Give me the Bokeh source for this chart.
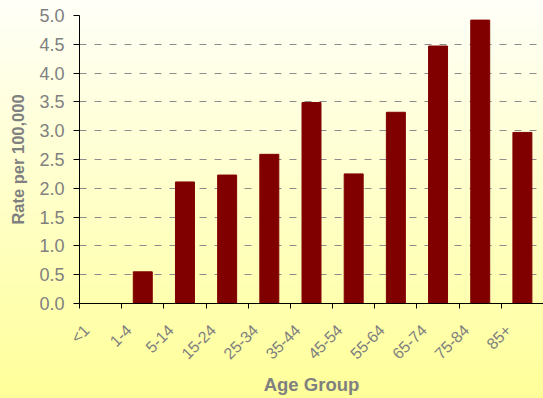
import math
from bokeh.plotting import figure
from bokeh.models import FixedTicker, Range1d, NumeralTickFormatter
from bokeh.embed import file_html
from bokeh.resources import INLINE

age_groups = ["<1", "1-4", "5-14", "15-24", "25-34", "35-44", "45-54", "55-64", "65-74", "75-84", "85+"]
rates = [0.0, 0.55, 2.11, 2.23, 2.59, 3.49, 2.25, 3.32, 4.47, 4.92, 2.97]
y_ticks = [0.0, 0.5, 1.0, 1.5, 2.0, 2.5, 3.0, 3.5, 4.0, 4.5, 5.0]

n = len(age_groups)
# rotated labels sit a little left of their category centre (as in the reference)
LABEL_SHIFT = 0.33
label_pos = list(range(n))
bar_x = [i + LABEL_SHIFT for i in range(n)]
edges = [i + LABEL_SHIFT - 0.5 for i in range(n + 1)]

FONT = "Liberation Sans"
GRAY = "#808080"

p = figure(width=543, height=398, output_backend="svg", toolbar_location=None,
           x_range=Range1d(LABEL_SHIFT - 0.5, n + LABEL_SHIFT - 0.5), y_range=Range1d(0, 5),
           min_border_left=79, min_border_right=0, min_border_top=15, min_border_bottom=95)

p.styles = {"background": "linear-gradient(to bottom, #FFFFF8 0%, #FFFF99 100%)"}
p.background_fill_color = None
p.border_fill_color = None
p.outline_line_color = None

p.vbar(x=bar_x, top=rates, width=0.45, color="#800000")

# y axis
yax = p.yaxis[0]
yax.ticker = FixedTicker(ticks=y_ticks)
yax.formatter = NumeralTickFormatter(format="0.0")
yax.major_tick_out = 6
yax.major_tick_in = 0
yax.minor_tick_out = 0
yax.minor_tick_in = 0
yax.axis_line_color = "#000000"
yax.major_tick_line_color = "#000000"
yax.major_label_text_font = FONT
yax.major_label_text_font_size = "18px"
yax.major_label_text_color = GRAY
yax.major_label_standoff = 9
yax.axis_label = "Rate per 100,000"
yax.axis_label_text_font = FONT
yax.axis_label_text_font_size = "16.5px"
yax.axis_label_text_font_style = "bold"
yax.axis_label_text_color = GRAY
yax.axis_label_standoff = 9

# x axis
xax = p.xaxis[0]
xax.ticker = FixedTicker(ticks=label_pos, minor_ticks=edges)
xax.major_label_overrides = {c: g for c, g in zip(label_pos, age_groups)}
xax.major_tick_out = 0
xax.major_tick_in = 0
xax.minor_tick_out = 5
xax.minor_tick_in = 0
xax.minor_tick_line_color = "#000000"
xax.axis_line_color = "#000000"
xax.major_label_orientation = math.pi / 4
xax.major_label_text_font = FONT
xax.major_label_text_font_size = "16px"
xax.major_label_text_color = GRAY
xax.major_label_standoff = 19
xax.axis_label = "Age Group"
xax.axis_label_text_font = FONT
xax.axis_label_text_font_size = "18.5px"
xax.axis_label_text_font_style = "bold"
xax.axis_label_text_color = GRAY
xax.axis_label_standoff = 3

p.xgrid.visible = False
p.ygrid.ticker = FixedTicker(ticks=y_ticks[1:])
p.ygrid.grid_line_color = "#8c8c8c"
p.ygrid.grid_line_dash = "7 8"
p.ygrid.grid_line_width = 1

open("out.html", "w").write(file_html(p, INLINE))
